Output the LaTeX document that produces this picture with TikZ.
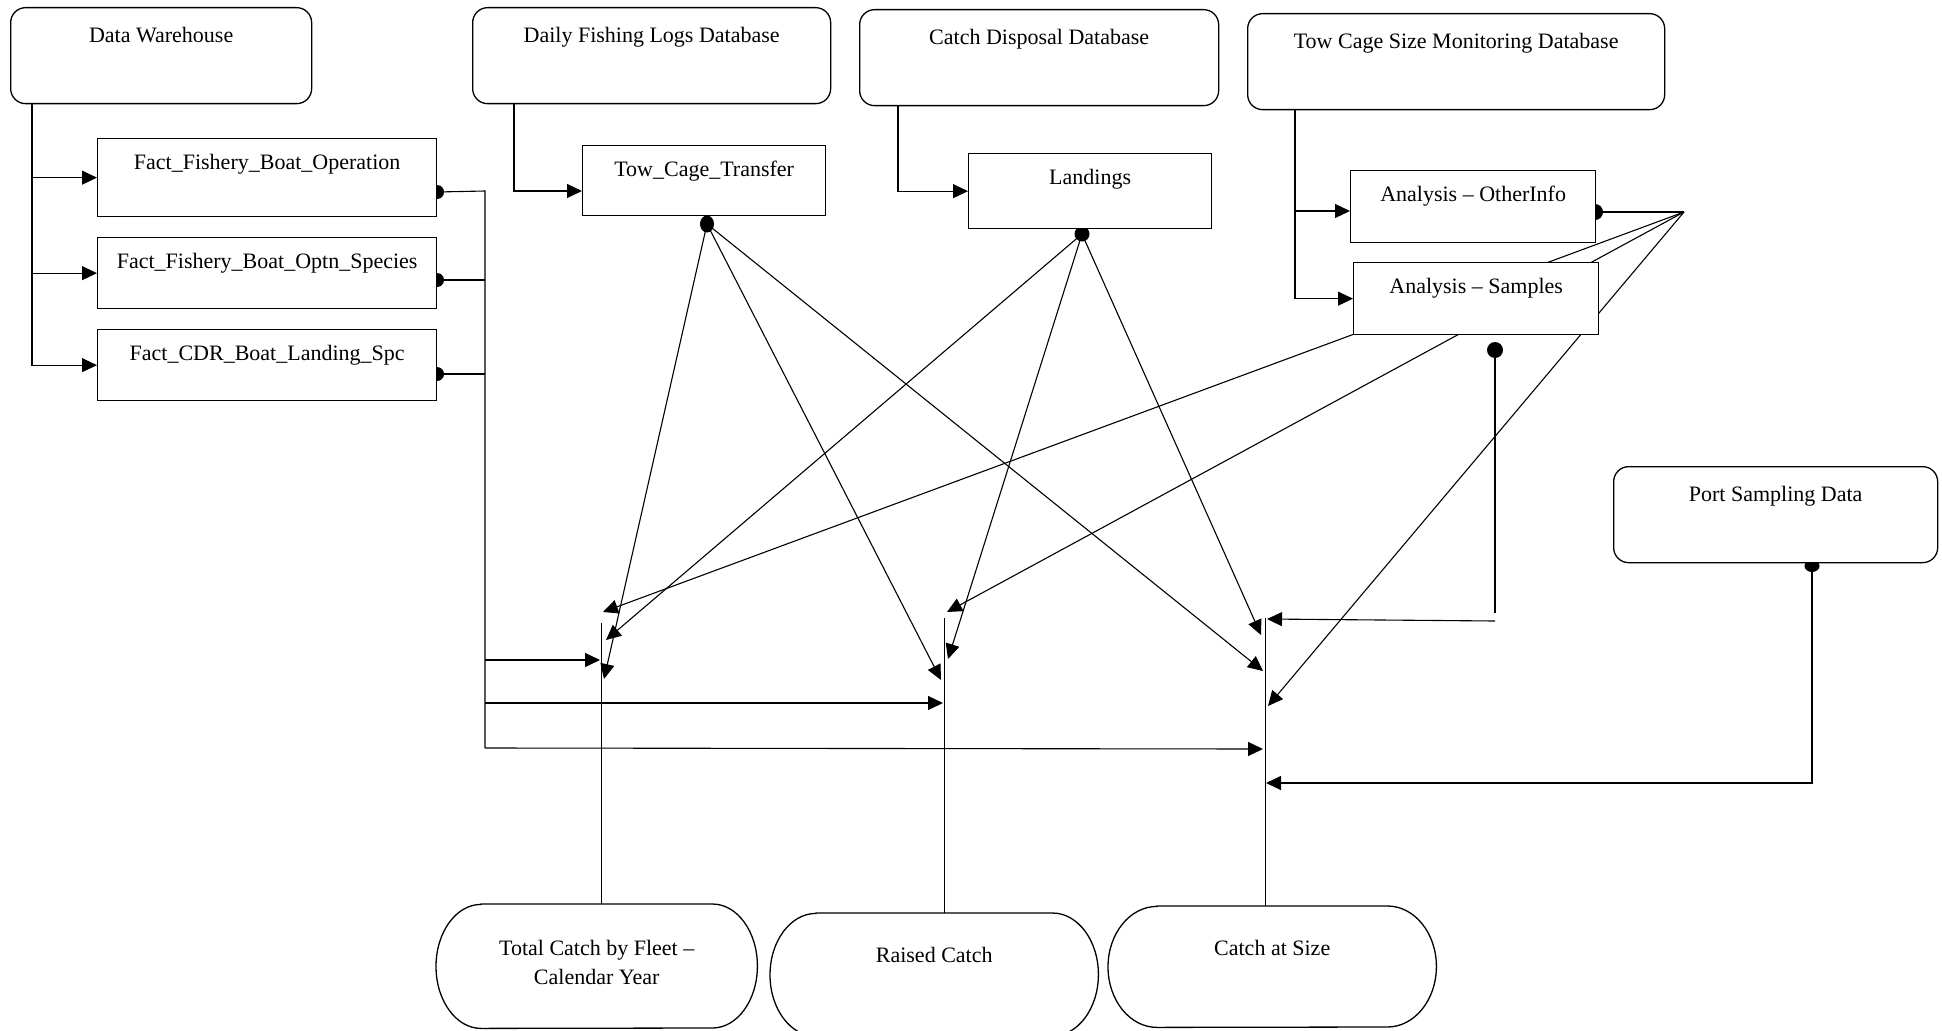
\documentclass[tikz,border=0pt]{standalone}
\usepackage{fontspec}
\setmainfont{Liberation Serif}
\usetikzlibrary{arrows.meta,backgrounds}

\tikzset{
  dbbox/.style={draw, line width=1.3pt, rounded corners=15pt, fill=white, anchor=north west, inner sep=0pt, minimum height=96},
  tblbox/.style={draw, line width=1.3pt, fill=white, anchor=north west, inner sep=0pt},
  boxtxt/.style={anchor=north, inner xsep=0pt, inner ysep=20pt},
  tbltxt/.style={anchor=north, inner xsep=0pt, inner ysep=16pt},
  outbox/.style={anchor=north west, inner sep=0pt},
  termline/.style={line width=1.3pt},
  ln/.style={line width=1.1pt},
  arr/.style={line width=1.1pt, -{Triangle[length=15pt,width=14pt]}},
}

\begin{document}
\begin{tikzpicture}[x=1pt,y=1pt,yscale=-1,xscale=1, font=\fontsize{22}{29}\selectfont]
\useasboundingbox (0,0) rectangle (1942,1030);

% Source databases
\node[dbbox, minimum width=301, label={[boxtxt]north:Data Warehouse}] (dw) at (10,7) {};
\node[dbbox, minimum width=358, label={[boxtxt]north:Daily Fishing Logs Database}] (dfl) at (472,7) {};
\node[dbbox, minimum width=359, label={[boxtxt]north:Catch Disposal Database}] (cdd) at (859,9) {};
\node[dbbox, minimum width=417, label={[boxtxt]north:Tow Cage Size Monitoring Database}] (tcs) at (1247,13) {};
\node[dbbox, minimum width=324, label={[boxtxt]north:Port Sampling Data}] (psd) at (1613,466) {};

% Tables
\node[tblbox, minimum width=339, minimum height=78, label={[tbltxt]north:Fact\_Fishery\_Boat\_Operation}] (fbo) at (97,138) {};
\node[tblbox, minimum width=339, minimum height=71, label={[tbltxt]north:Fact\_Fishery\_Boat\_Optn\_Species}] (fbs) at (97,237) {};
\node[tblbox, minimum width=339, minimum height=71, label={[tbltxt]north:Fact\_CDR\_Boat\_Landing\_Spc}] (fcdr) at (97,329) {};
\node[tblbox, minimum width=243, minimum height=70, label={[tbltxt]north:Tow\_Cage\_Transfer}] (tct) at (582,145) {};
\node[tblbox, minimum width=243, minimum height=75, label={[tbltxt]north:Landings}] (land) at (968,153) {};
\node[tblbox, minimum width=245, minimum height=72, label={[tbltxt]north:Analysis -- OtherInfo}] (oth) at (1350,170) {};
\node[tblbox, minimum width=245, minimum height=72, label={[tbltxt]north:Analysis -- Samples}] (samp) at (1353,262) {};

% Outputs
\node[outbox, align=center, minimum width=321, minimum height=124] (tc) at (436,904) {Total Catch by Fleet --\\Calendar Year\rule[-8pt]{0pt}{8pt}};
\node[outbox, minimum width=328, minimum height=123, text depth=40pt] (rc) at (770,913) {Raised Catch};
\node[outbox, minimum width=328, minimum height=121, text depth=38pt] (cas) at (1108,906) {Catch at Size};

\draw[termline] ([xshift=45pt]tc.north west) -- ([xshift=-45pt]tc.north east) arc[start angle=270, end angle=450, x radius=45, y radius=62] -- ([xshift=45pt]tc.south west) arc[start angle=90, end angle=270, x radius=45, y radius=62] -- cycle;
\draw[termline] ([xshift=46pt]rc.north west) -- ([xshift=-46pt]rc.north east) arc[start angle=270, end angle=450, x radius=46, y radius=61.5] -- ([xshift=46pt]rc.south west) arc[start angle=90, end angle=270, x radius=46, y radius=61.5] -- cycle;
\draw[termline] ([xshift=49pt]cas.north west) -- ([xshift=-49pt]cas.north east) arc[start angle=270, end angle=450, x radius=49, y radius=60.5] -- ([xshift=49pt]cas.south west) arc[start angle=90, end angle=270, x radius=49, y radius=60.5] -- cycle;

% Connector points
\coordinate (dw trunk) at (32,103);
\coordinate (dfl trunk) at (514,103);
\coordinate (cdd trunk) at (898,105);
\coordinate (tcs trunk) at (1295,109);
\coordinate (tct in) at (582,191);
\coordinate (oth in) at (1350,211);
\coordinate (fbo dot) at (437,192);
\coordinate (fbs dot) at (437,280);
\coordinate (fcdr dot) at (437,374);
\coordinate (bus top) at (485,191);
\coordinate (bus bot) at (485,748);
\coordinate (tct dot) at (707,224);
\coordinate (land dot) at (1082,234);
\coordinate (oth dot) at (1595,212);
\coordinate (junc) at (1684,212);
\coordinate (samp dot) at (1495,350);
\coordinate (samp bend a) at (1495,613);
\coordinate (samp bend b) at (1495,621);
\coordinate (psd dot) at (1812,566);
\coordinate (tc top) at (601,623);
\coordinate (rc top) at (944,618);
\coordinate (cas top) at (1265,618);
\coordinate (tc junc) at (603,612);
\coordinate (tc land) at (606,640);
\coordinate (tc dw) at (600,660);
\coordinate (tc tct) at (604,679);
\coordinate (rc junc) at (947,612);
\coordinate (rc land) at (948,659);
\coordinate (rc tct) at (941,680);
\coordinate (rc dw) at (943,703);
\coordinate (cas samp) at (1267,619);
\coordinate (cas land) at (1261,635);
\coordinate (cas tct) at (1263,671);
\coordinate (cas junc) at (1268,706);
\coordinate (cas dw) at (1263,749);
\coordinate (cas psd) at (1266,783);

\begin{scope}[on background layer]
% Feeds into tables
\draw[arr] (dw trunk) |- (fbo.west);
\draw[arr] (dw trunk) |- (fbs.west);
\draw[arr] (dw trunk) |- (fcdr.west);
\draw[arr] (dfl trunk) |- (tct in);
\draw[arr] (cdd trunk) |- (land.west);
\draw[arr] (tcs trunk) |- (oth in);
\draw[arr] (tcs trunk) |- (samp.west);

% Dots
\fill (fbo dot) ellipse [x radius=7, y radius=7];
\fill (fbs dot) ellipse [x radius=7, y radius=7];
\fill (fcdr dot) ellipse [x radius=7, y radius=7];
\fill (tct dot) ellipse [x radius=7, y radius=8.5];
\fill (land dot) ellipse [x radius=7.5, y radius=7.5];
\fill (oth dot) ellipse [x radius=8, y radius=8];
\fill (samp dot) ellipse [x radius=8, y radius=8];
\fill (psd dot) ellipse [x radius=7.5, y radius=6];

% Fact tables bus
\draw[ln] (fbo dot) -- (bus top) -- (bus bot);
\draw[ln] (fbs dot) -- (fbs dot -| bus top);
\draw[ln] (fcdr dot) -- (fcdr dot -| bus top);
\draw[arr] (tc dw -| bus top) -- (tc dw);
\draw[arr] (rc dw -| bus top) -- (rc dw);
\draw[arr] (bus bot) -- (cas dw);

% Tow_Cage_Transfer
\draw[arr] (tct dot) -- (tc tct);
\draw[arr] (tct dot) -- (rc tct);
\draw[arr] (tct dot) -- (cas tct);

% Landings
\draw[arr] (land dot) -- (tc land);
\draw[arr] (land dot) -- (rc land);
\draw[arr] (land dot) -- (cas land);

% Analysis
\draw[ln] (oth dot) -- (junc);
\draw[arr] (junc) -- (tc junc);
\draw[arr] (junc) -- (rc junc);
\draw[arr] (junc) -- (cas junc);
\draw[ln] (samp dot) -- (samp bend a);
\draw[arr] (samp bend b) -- (cas samp);

% Port sampling
\draw[arr] (psd dot) |- (cas psd);

% Output lines
\draw[line width=1pt] (tc top) -- (tc top |- tc.north);
\draw[line width=1pt] (rc top) -- (rc top |- rc.north);
\draw[line width=1pt] (cas top) -- (cas top |- cas.north);
\end{scope}

\end{tikzpicture}
\end{document}
